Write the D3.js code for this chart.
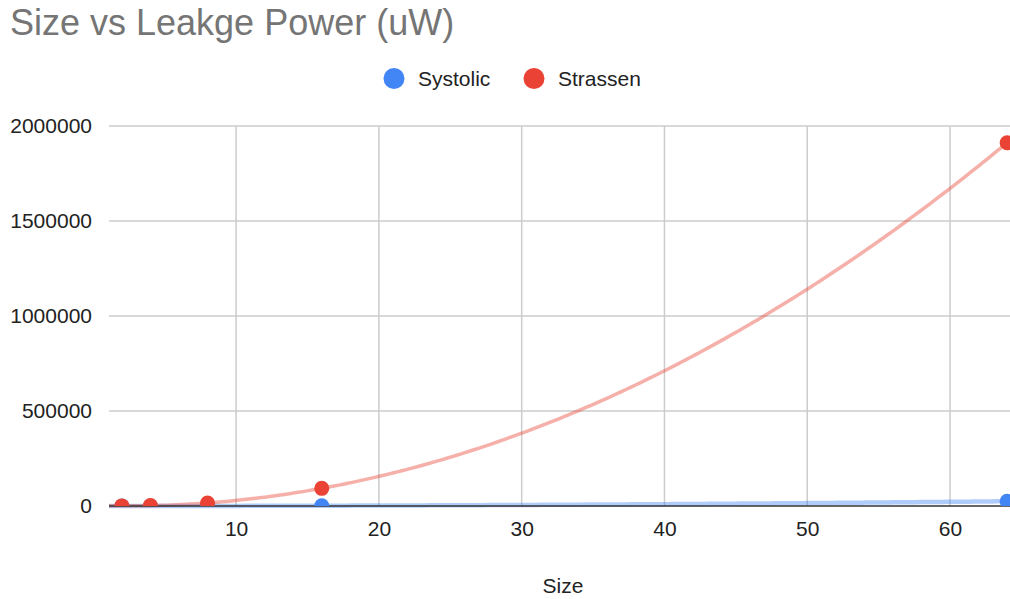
<!DOCTYPE html>
<html>
<head>
<meta charset="utf-8">
<script src="https://cdn.jsdelivr.net/npm/d3@7"></script>
<style>
  html, body { margin: 0; padding: 0; background: #fff; }
  svg { display: block; font-family: Arial, "Liberation Sans", sans-serif; }
</style>
</head>
<body>
<svg id="chart" width="1010" height="599"></svg>
<script>
// Matrix size vs leakage power (uW)
const sizes = [2, 4, 8, 16, 64];
const systolic = [25, 100, 390, 1560, 25000];
const strassen = [500, 2500, 16000, 93000, 1912000];
const seriesNames = ["Systolic", "Strassen"];
const seriesColors = ["#4285f4", "#ea4335"];
const yTicks = [0, 500000, 1000000, 1500000, 2000000];
const xTicks = [10, 20, 30, 40, 50, 60];

const plot = { left: 109, right: 1010, top: 126, bottom: 506 };

const svg = d3.select("#chart");

const x = d3.scaleLinear().domain([1.1, 64.2]).range([plot.left, plot.right]);
const y = d3.scaleLinear().domain([0, 2000000]).range([plot.bottom, plot.top]);

// Points are clipped to the plot area
svg.append("defs").append("clipPath").attr("id", "plot-clip")
  .append("rect")
  .attr("x", plot.left).attr("y", 0)
  .attr("width", plot.right - plot.left).attr("height", plot.bottom);

// Least-squares polynomial trendline (degree 2)
function polyFit(xs, ys, deg) {
  const n = deg + 1;
  const A = Array.from({ length: n }, () => new Array(n + 1).fill(0));
  for (let i = 0; i < n; i++) {
    for (let j = 0; j < n; j++) {
      A[i][j] = d3.sum(xs, v => Math.pow(v, i + j));
    }
    A[i][n] = d3.sum(xs, (v, k) => ys[k] * Math.pow(v, i));
  }
  for (let c = 0; c < n; c++) {
    let p = c;
    for (let r = c + 1; r < n; r++) if (Math.abs(A[r][c]) > Math.abs(A[p][c])) p = r;
    [A[c], A[p]] = [A[p], A[c]];
    for (let r = 0; r < n; r++) {
      if (r === c) continue;
      const f = A[r][c] / A[c][c];
      for (let k = c; k <= n; k++) A[r][k] -= f * A[c][k];
    }
  }
  const coef = A.map((row, i) => row[n] / row[i]);
  return v => coef.reduce((s, a, i) => s + a * Math.pow(v, i), 0);
}

// Title
svg.append("text")
  .attr("x", 10).attr("y", 35)
  .attr("font-size", 36).attr("fill", "#757575")
  .text("Size vs Leakge Power (uW)");

// Legend
const legendItems = [
  { name: seriesNames[0], color: seriesColors[0], cx: 394, tx: 418 },
  { name: seriesNames[1], color: seriesColors[1], cx: 534, tx: 558 }
];
const lg = svg.append("g");
legendItems.forEach(d => {
  lg.append("circle").attr("cx", d.cx).attr("cy", 78.5).attr("r", 10.5).attr("fill", d.color);
  lg.append("text").attr("x", d.tx).attr("y", 86)
    .attr("font-size", 21).attr("fill", "#222").text(d.name);
});

// Gridlines
const grid = svg.append("g");
grid.selectAll("line.h").data(yTicks.filter(t => t !== 0)).join("line")
  .attr("x1", plot.left).attr("x2", plot.right)
  .attr("y1", d => y(d)).attr("y2", d => y(d))
  .attr("stroke", "#cccccc").attr("stroke-width", 1.5);
grid.selectAll("line.v").data(xTicks).join("line")
  .attr("x1", d => x(d)).attr("x2", d => x(d))
  .attr("y1", plot.top).attr("y2", plot.bottom)
  .attr("stroke", "#cccccc").attr("stroke-width", 1.5);

// Axes
const yAxis = d3.axisLeft(y).tickValues(yTicks).tickSize(0).tickPadding(17).tickFormat(d3.format("d"));
const gy = svg.append("g").attr("transform", `translate(${plot.left},0)`).call(yAxis);
gy.select(".domain").remove();
gy.selectAll("text").attr("font-size", 21).attr("fill", "#222")
  .attr("font-family", "Arial, 'Liberation Sans', sans-serif");

const xAxis = d3.axisBottom(x).tickValues(xTicks).tickSize(0).tickPadding(15).tickFormat(d3.format("d"));
const gx = svg.append("g").attr("transform", `translate(0,${plot.bottom})`).call(xAxis);
gx.select(".domain").remove();
gx.selectAll("text").attr("font-size", 21).attr("fill", "#222")
  .attr("font-family", "Arial, 'Liberation Sans', sans-serif");

// X axis title
svg.append("text")
  .attr("x", 563).attr("y", 593).attr("text-anchor", "middle")
  .attr("font-size", 21).attr("fill", "#222").text("Size");

// Trendlines
const seriesData = [systolic, strassen];
const xsLine = d3.range(0, 201).map(i => x.domain()[0] + (x.domain()[1] - x.domain()[0]) * i / 200);
seriesData.forEach((vals, si) => {
  const f = polyFit(sizes, vals, 2);
  const line = d3.line().x(d => x(d)).y(d => y(Math.max(0, f(d))));
  svg.append("path")
    .datum(xsLine)
    .attr("d", line)
    .attr("fill", "none")
    .attr("stroke", seriesColors[si])
    .attr("stroke-opacity", 0.42)
    .attr("stroke-width", si === 0 ? 4.5 : 3.5);
});

// Zero baseline
svg.append("line")
  .attr("x1", plot.left).attr("x2", plot.right)
  .attr("y1", y(0)).attr("y2", y(0))
  .attr("stroke", "#333333").attr("stroke-width", 1.5);

// Points
seriesData.forEach((vals, si) => {
  svg.append("g").attr("clip-path", "url(#plot-clip)")
    .selectAll("circle").data(sizes).join("circle")
    .attr("cx", d => x(d))
    .attr("cy", (d, i) => y(vals[i]))
    .attr("r", 7.5)
    .attr("fill", seriesColors[si]);
});
</script>
</body>
</html>
